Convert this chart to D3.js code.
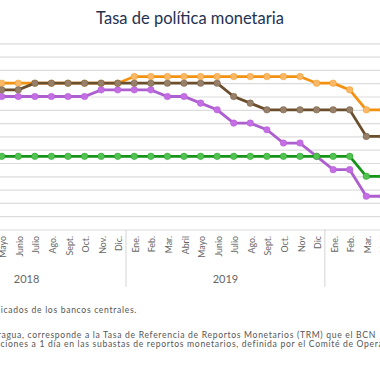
<!DOCTYPE html>
<html>
<head>
<meta charset="utf-8">
<script src="https://cdn.jsdelivr.net/npm/d3@7"></script>
<style>
  body { margin: 0; background: #fff; }
  svg { display: block; font-family: Lato, "Open Sans", sans-serif; }
</style>
</head>
<body>
<div class="graph"></div>
<script>
// month labels, May 2018 .. April 2020
var months = ["Mayo","Junio","Julio","Ago.","Sept.","Oct.","Nov.","Dic.",
  "Ene.","Feb.","Mar.","Abril","Mayo","Junio","Julio","Ago.","Sept.","Oct.","Nov","Dic",
  "Ene.","Feb.","Mar.","Abril"];
// year groups: index of first and last month of each year (relative to Mayo 2018)
var years = [["2018", -4, 7], ["2019", 8, 19], ["2020", 20, 31]];

var honduras  = [5.5,5.5,5.5,5.5,5.5,5.5,5.5,5.5, 5.75,5.75,5.75,5.75,5.75,5.75,5.75,5.75,5.75,5.75,5.75,5.5, 5.5,5.25,4.5,4.5];
var costaRica = [5.0,5.0,5.0,5.0,5.0,5.0,5.25,5.25, 5.25,5.25,5.0,5.0,4.75,4.5,4.0,4.0,3.75,3.25,3.25,2.75, 2.25,2.25,1.25,1.25];
var repDom    = [5.25,5.25,5.5,5.5,5.5,5.5,5.5,5.5, 5.5,5.5,5.5,5.5,5.5,5.5,5.0,4.75,4.5,4.5,4.5,4.5, 4.5,4.5,3.5,3.5];
var guatemala = [2.75,2.75,2.75,2.75,2.75,2.75,2.75,2.75, 2.75,2.75,2.75,2.75,2.75,2.75,2.75,2.75,2.75,2.75,2.75,2.75, 2.75,2.75,2.0,2.0];

var yTicks = d3.range(0, 7.01, 0.5);

var series = [
  {name: "Honduras", values: honduras, line: "#f39110", dot: "#f8b868"},
  {name: "Costa Rica", values: costaRica, line: "#ad5fcf", dot: "#c46de4"},
  {name: "República Dominicana", values: repDom, line: "#6b4f2c", dot: "#97806a"},
  {name: "Guatemala", values: guatemala, line: "#16941a", dot: "#52c352"}
];

var title = "Tasa de política monetaria";
var notes = [
  {text: "Fuente: elaboración propia con base en datos publicados de los bancos centrales.", end: 137, y: 312.5},
  {text: "1/ Para Nicaragua, corresponde a la Tasa de Referencia de Reportos Monetarios (TRM) que el BCN", cut: "1/ Para Nicar", x: 1.5, y: 337.5},
  {text: "aplica a las operaciones a 1 día en las subastas de reportos monetarios, definida por el Comité de Operaciones Monetarias.", cut: "aplica a las opera", x: 0.5, y: 346.5}
];

var w = 380, h = 380;
var svg = d3.select('div.graph').append('svg')
  .attr('width', w).attr('height', h);

// scales
var x = d3.scaleLinear().domain([0, 22]).range([1.7, 366.3]);
var y = d3.scaleLinear().domain([0, 7]).range([229.5, 43.3]);

// title
svg.append('text')
  .attr('x', 190).attr('y', 23.5)
  .attr('text-anchor', 'middle')
  .attr('fill', '#23324f')
  .style('font-size', '16.5px')
  .text(title);

// gridlines (the y axis labels of the original lie outside the crop)
var yAxisG = svg.append('g')
  .call(d3.axisLeft(y).tickValues(yTicks).tickSize(-w).tickFormat(''));
yAxisG.select('.domain').remove();
yAxisG.selectAll('.tick line').attr('stroke', '#dcdcdc').attr('stroke-width', 1.2);

// x axis: months
var xAxisG = svg.append('g').attr('class', 'xaxis');
xAxisG.selectAll('.month')
  .data(months)
  .enter().append('text')
  .attr('class', 'month')
  .attr('transform', function(d, i){ return 'translate(' + [x(i) + 1.5, 236] + ') rotate(-90)'; })
  .attr('text-anchor', 'end')
  .attr('dy', '0.35em')
  .attr('fill', '#666')
  .style('font-size', '8.8px')
  .text(function(d){ return d; });

// year separators and labels
xAxisG.selectAll('.sep')
  .data(years.slice(0, -1))
  .enter().append('line')
  .attr('class', 'sep')
  .attr('x1', function(d){ return x(d[2] + 0.5); })
  .attr('x2', function(d){ return x(d[2] + 0.5); })
  .attr('y1', 229.5).attr('y2', 287)
  .attr('stroke', '#d4d4d4');

xAxisG.selectAll('.year')
  .data(years.filter(function(d){ return x((d[1] + d[2]) / 2) < w; }))
  .enter().append('text')
  .attr('class', 'year')
  .attr('x', function(d){ return x((d[1] + d[2]) / 2); })
  .attr('y', 283)
  .attr('text-anchor', 'middle')
  .attr('fill', '#666')
  .style('font-size', '11px')
  .text(function(d){ return d[0]; });

// lines
var line = d3.line()
  .x(function(d, i){ return x(i); })
  .y(function(d){ return y(d); });

var sg = svg.selectAll('.series')
  .data(series)
  .enter().append('g')
  .attr('class', 'series');

sg.append('path')
  .attr('d', function(d){ return line(d.values); })
  .attr('fill', 'none')
  .attr('stroke', function(d){ return d.line; })
  .attr('stroke-width', 2.8);

sg.selectAll('circle')
  .data(function(d){ return d.values.map(function(v){ return {v: v, s: d}; }); })
  .enter().append('circle')
  .attr('cx', function(d, i){ return x(i); })
  .attr('cy', function(d){ return y(d.v); })
  .attr('r', 3.3)
  .attr('fill', function(d){ return d.s.dot; })
  .attr('stroke', function(d){ return d.s.line; })
  .attr('stroke-opacity', 0.5)
  .attr('stroke-width', 0.8);

// footnotes (cropped at both edges like the original)
var noteG = svg.append('g').attr('fill', '#555').style('font-size', '8.6px');
var noteT = notes.map(function(n){
  return noteG.append('text').attr('y', n.y).text(n.text);
});
// widen spacing so the second line runs from its start to "BCN" at the right edge
var n2 = notes[1], t2 = noteT[1].node();
var visLen = n2.text.length - n2.cut.length;
var visW = t2.getSubStringLength(n2.cut.length, visLen);
var ls = (376 - n2.x - visW) / visLen;
noteG.style('letter-spacing', ls + 'px');

notes.forEach(function(n, i){
  var t = noteT[i];
  if (n.end !== undefined) {
    t.attr('x', n.end).attr('text-anchor', 'end');
  } else {
    var off = t.node().getSubStringLength(0, n.cut.length);
    t.attr('x', n.x - off);
  }
});
</script>
</body>
</html>
